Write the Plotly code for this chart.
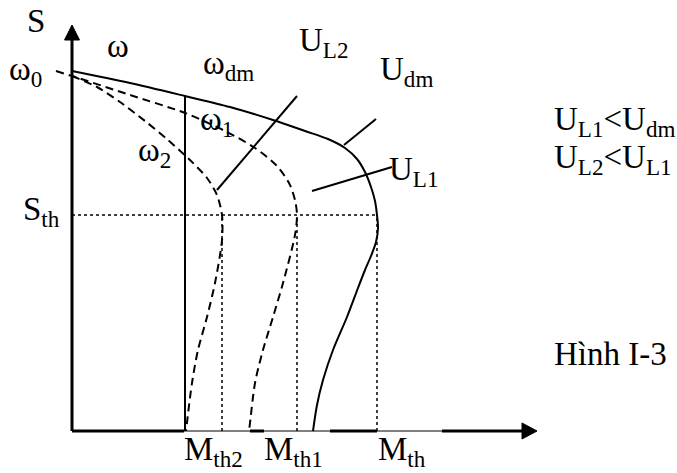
import plotly.graph_objects as go

# Mechanical characteristics of an induction motor at reduced stator voltage.
# Horizontal: torque M, vertical: speed / slip.  Arbitrary diagram units.

# Rated voltage U_dm (solid)
m_dm = [0, 58, 113, 158, 201, 233, 256, 273, 285, 293, 299, 303, 305, 306, 304, 299, 293, 286, 275, 261, 251, 245, 241]
w_dm = [360, 348, 335, 324, 311, 300, 292, 283, 272, 259, 244, 230, 216, 203, 189, 175, 161, 143, 114, 81, 51, 26, 0]

# Reduced voltage U_L1 (dashed)
m_l1 = [-16, 0, 58, 113, 153, 183, 204, 217, 223, 225, 223, 211, 201, 191, 183, 178, 177]
w_l1 = [360, 355, 336, 318, 300, 283, 266, 248, 231, 216, 196, 148, 114, 81, 48, 8, 0]

# Reduced voltage U_L2 (dashed)
m_l2 = [0, 25, 48, 73, 96, 118, 135, 145, 150, 150, 143, 135, 126, 120, 114]
w_l2 = [355, 344, 329, 310, 291, 271, 253, 236, 216, 191, 148, 114, 81, 48, 0]

# Rated operating point and breakdown values
m_rated, w_rated = 113, 335
s_th = 216
m_th2, m_th1, m_th = 150, 225, 305

# Leader lines from the curve labels
leaders = {
    "UL2": ([225, 145], [335, 241]),
    "Udm": ([304, 272], [312, 286]),
    "UL1": ([320, 240], [264, 240]),
}

# Axis extents
x_end, y_end = 465, 406

BLACK = "black"
FONT = "Liberation Serif"
FS = 33

fig = go.Figure()


def line(x, y, width=2, dash="solid", smooth=True):
    fig.add_trace(go.Scatter(x=x, y=y, mode="lines", hoverinfo="skip",
                             line=dict(color=BLACK, width=width, dash=dash,
                                       shape="spline" if smooth else "linear",
                                       smoothing=0.8 if smooth else None)))


# Dotted guides at the breakdown slip / torques
line([0, m_th], [s_th, s_th], width=1.5, dash="dot", smooth=False)
for m in (m_th2, m_th1, m_th):
    line([m, m], [0, s_th], width=1.5, dash="dot", smooth=False)

# Characteristic curves
line(m_dm, w_dm, width=2)
line(m_l1, w_l1, width=2, dash="8px,5px")
line(m_l2, w_l2, width=2, dash="8px,5px")

# Rated torque vertical
line([m_rated, m_rated], [0, w_rated], width=2, smooth=False)

# Leaders
for xs, ys in leaders.values():
    line(xs, ys, width=2, smooth=False)

# Axes: y axis with arrow
line([0, 0], [0, y_end - 12], width=3, smooth=False)
fig.add_trace(go.Scatter(x=[-7.5, 7.5, 0, -7.5], y=[y_end - 15, y_end - 15, y_end, y_end - 15],
                         mode="lines", fill="toself", fillcolor=BLACK, hoverinfo="skip",
                         line=dict(color=BLACK, width=1)))

# x axis: thin where the torque labels sit, thick elsewhere
gaps = [(112, 178), (192, 258), (305, 370)]
line([0, x_end - 12], [0, 0], width=1, smooth=False)
edges = [0]
for a, b in gaps:
    edges += [a, b]
edges.append(x_end - 12)
for i in range(0, len(edges), 2):
    line([edges[i], edges[i + 1]], [0, 0], width=3, smooth=False)
fig.add_trace(go.Scatter(x=[x_end - 15, x_end - 15, x_end, x_end - 15], y=[-8, 8, 0, -8],
                         mode="lines", fill="toself", fillcolor=BLACK, hoverinfo="skip",
                         line=dict(color=BLACK, width=1)))

labels = [
    ("S", -47, 410),
    ("ω", 33, 385),
    ("ω<sub>0</sub>", -65, 360),
    ("ω<sub>dm</sub>", 129, 366),
    ("U<sub>L2</sub>", 225, 389),
    ("U<sub>dm</sub>", 306, 360),
    ("ω<sub>1</sub>", 126, 310),
    ("ω<sub>2</sub>", 64, 279),
    ("U<sub>L1</sub>", 315, 260),
    ("S<sub>th</sub>", -51, 220),
    ("U<sub>L1</sub>&lt;U<sub>dm</sub>", 480, 310),
    ("U<sub>L2</sub>&lt;U<sub>L1</sub>", 480, 272),
    ("Hình I-3", 480, 77),
    ("M<sub>th2</sub>", 110, -20),
    ("M<sub>th1</sub>", 190, -20),
    ("M<sub>th</sub>", 304, -20),
]
for txt, x, y in labels:
    fig.add_annotation(x=x, y=y, text=txt, showarrow=False, xanchor="left", yanchor="middle",
                       font=dict(family=FONT, size=FS, color=BLACK))

fig.update_layout(
    width=677, height=473, margin=dict(l=0, r=0, t=0, b=0),
    paper_bgcolor="white", plot_bgcolor="white", showlegend=False,
    xaxis=dict(range=[-72, 605], visible=False, fixedrange=True),
    yaxis=dict(range=[-42, 431], visible=False, fixedrange=True),
)

fig.write_html("out.html")
